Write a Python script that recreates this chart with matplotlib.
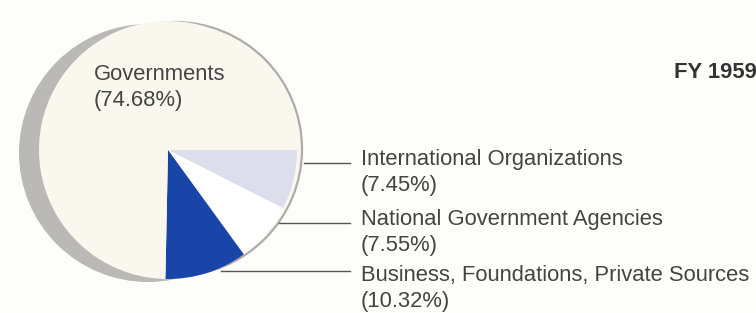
import matplotlib
matplotlib.use("Agg")
import matplotlib.pyplot as plt
from matplotlib.patches import Circle

# FY 1959 funding shares, clockwise from 3 o'clock
labels = ["International Organizations", "National Government Agencies",
          "Business, Foundations, Private Sources", "Governments"]
shares = [7.45, 7.55, 10.32, 74.68]
colors = ["#dcdeec", "#ffffff", "#1a45a8", "#f9f7ee"]
title = "FY 1959"

plt.rcParams['font.family'] = ['Liberation Sans', 'DejaVu Sans']
txt_color = "#444444"
fs = 15.8

fig = plt.figure(figsize=(7.56, 3.13), dpi=100)
fig.patch.set_facecolor("#fdfdfa")
ax = fig.add_axes([0, 0, 1, 1])

# shadow disk + cream base disk
shadow = Circle((148, 153), 129, facecolor="#bbb9b5", edgecolor="none", zorder=1)
ax.add_patch(shadow)
base = Circle((175, 149), 127, facecolor=colors[3], edgecolor="#aeaca8", lw=1.6, zorder=2)
ax.add_patch(base)
clip = Circle((175, 149), 126, transform=ax.transData)

wedges, _ = ax.pie(shares, colors=colors, startangle=0, counterclock=True,
                   center=(168, 150), radius=129, frame=True,
                   wedgeprops=dict(linewidth=0))
for w in wedges:
    w.set_zorder(3)
    w.set_clip_path(clip)

ax.set_xlim(0, 756)
ax.set_ylim(313, 0)
ax.set_aspect('equal')
ax.axis('off')

# big slice label inside the pie
ax.text(94, 80, labels[3], fontsize=fs, color=txt_color, zorder=5)
ax.text(94, 106, "(%.2f%%)" % shares[3], fontsize=fs, color=txt_color, zorder=5)

# leader lines and labels for the small slices
line_y = [163, 223, 271]
line_x0 = [304, 279, 221]
text_y = [165, 225, 281]
for i in range(3):
    ax.plot([line_x0[i], 350], [line_y[i], line_y[i]], color="#555555", lw=1, zorder=4)
    ax.text(361, text_y[i], labels[i], fontsize=fs, color=txt_color)
    ax.text(361, text_y[i] + 26, "(%.2f%%)" % shares[i], fontsize=fs, color=txt_color)

ax.text(757, 78, title, fontsize=fs, fontweight='bold', color="#333333", ha='right')

fig.savefig("out.png", dpi=100, facecolor=fig.get_facecolor())
